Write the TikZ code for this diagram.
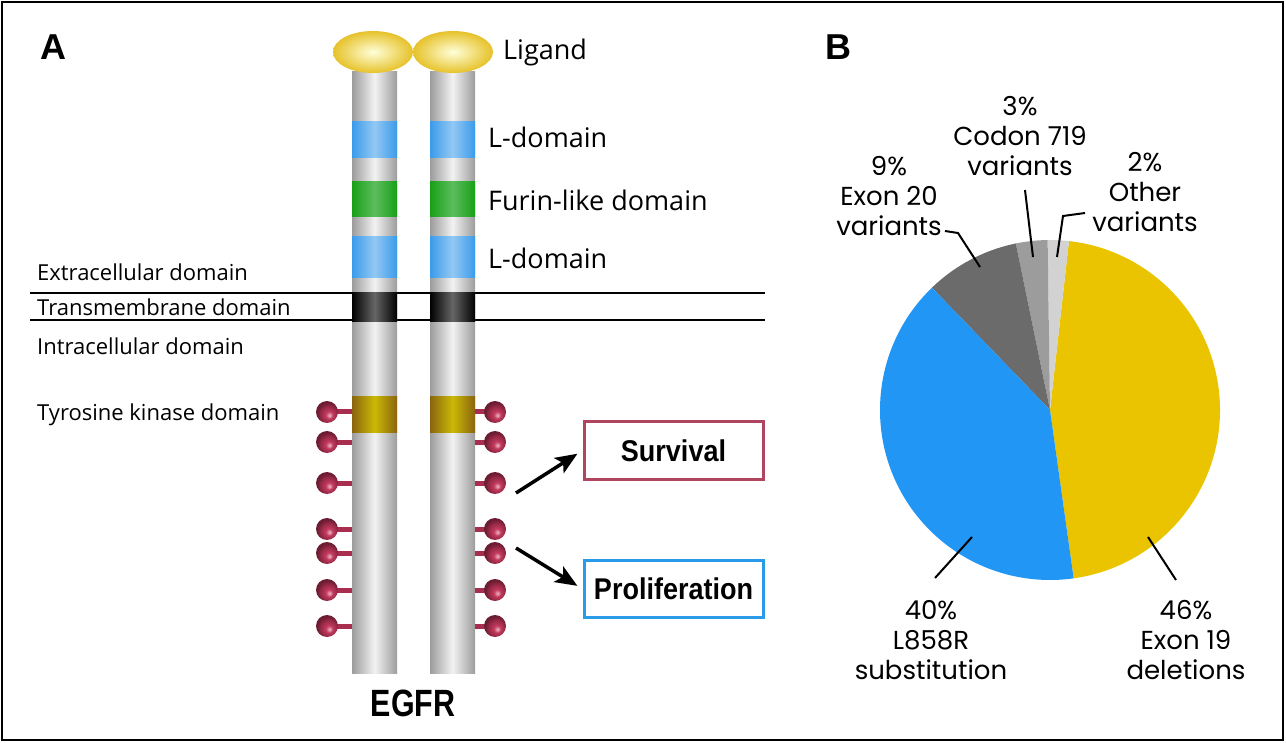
\documentclass[tikz,border=0pt]{standalone}
\usepackage{fontspec}
\setmainfont{Open Sans}
\newfontfamily\piefont{Poppins}
\newfontfamily\headfont{Liberation Sans}
\newfontfamily\condfont[FakeStretch=0.9]{Liberation Sans}
\newfontfamily\egfrfont[FakeStretch=0.8]{Liberation Sans}
\usetikzlibrary{arrows.meta}

\definecolor{pgray}{HTML}{9C9C9C}
\definecolor{lblue}{HTML}{3A9BEA}
\definecolor{lgreen}{HTML}{17A017}
\definecolor{lbrown}{HTML}{8A640E}
\definecolor{lolly}{HTML}{A82D4E}
\definecolor{ballc}{HTML}{C43A5E}
\definecolor{lig}{HTML}{E6C22A}
\definecolor{surv}{HTML}{B04560}
\definecolor{prolif}{HTML}{2A9BE8}
\definecolor{pieyel}{HTML}{EAC400}
\definecolor{pieblu}{HTML}{2196F5}
\definecolor{piedk}{HTML}{6B6B6B}
\definecolor{piemid}{HTML}{9C9C9C}
\definecolor{pielt}{HTML}{D2D2D2}
\pgfdeclareradialshading{lollyball}{\pgfqpoint{6bp}{-8bp}}{color(0bp)=(ballc!35!white);
  color(8bp)=(ballc); color(20bp)=(lolly!85!black); color(25bp)=(lolly!65!black);
  color(50bp)=(lolly!65!black)}

\begin{document}
\begin{tikzpicture}
  [x=1pt,y=-1pt,every node/.style={inner sep=0pt},
   lab/.style={anchor=west,font=\fontsize{22}{26}\selectfont},
   dom/.style={anchor=west,font=\fontsize{27}{30}\selectfont},
   pct/.style={align=center,font=\piefont\fontsize{26}{30}\selectfont},
   outcome/.style={draw,line width=3pt,minimum width=179pt,minimum height=57pt,
     font=\condfont\bfseries\fontsize{30}{32}\selectfont},
   arr/.style={line width=3.5pt,shorten >=6pt,-{Stealth[length=22pt,width=18pt,inset=5pt]}},
   lead/.style={line width=2pt},
   ball/.style={shading=lollyball},
   pillar/.style={left color=pgray,right color=pgray,middle color=white!95!black},
   bandblue/.style={left color=lblue,right color=lblue,middle color=lblue!55!white},
   bandgreen/.style={left color=lgreen,right color=lgreen,middle color=lgreen!70!white},
   bandblack/.style={left color=black,right color=black,middle color=black!60!white},
   bandbrown/.style={left color=lbrown,right color=lbrown,middle color=lbrown!45!yellow}]
  \useasboundingbox (0,0) rectangle (1286,743);
  \draw[line width=1.5pt] (2,2) rectangle (1283,740);

  \node[font=\headfont\bfseries\fontsize{36}{38}\selectfont] (pa) at (53,47) {A};
  \node[font=\headfont\bfseries\fontsize{36}{38}\selectfont] (pb) at (838,47) {B};

  \draw[line width=2pt] (30,293) -- (765,293);
  \draw[line width=2pt] (30,320) -- (765,320);

\foreach \x in {352,430}
  {
    \path[pillar] (\x,72) rectangle ({\x+45},673);
    \foreach \t/\b/\s in {122/158/bandblue, 182/217/bandgreen, 237/278/bandblue,
      293/322/bandblack, 397/432/bandbrown}
      \path[\s] (\x,\t) rectangle ({\x+45},\b);
  }
\foreach \x in {373,453}
  \shade[inner color=white!85!yellow,outer color=lig] (\x,52) ellipse [x radius=40pt,y radius=21pt];

\foreach \y in {412,442,483,529,553,590,626}
  {
    \draw[lolly,line width=5pt] (327,\y) -- (352,\y);
    \draw[lolly,line width=5pt] (475,\y) -- (495,\y);
    \shade[ball] (327,\y) circle [radius=11pt];
    \shade[ball] (495,\y) circle [radius=11pt];
  }

  \node[lab] (ext) at (37,272) {Extracellular domain};
  \node[lab] (tm) at (37,307) {Transmembrane domain};
  \node[lab] (intra) at (37,346) {Intracellular domain};
  \node[lab] (tk) at (37,415) {Tyrosine kinase domain};
  \node[dom] (lig) at (503,52) {Ligand};
  \node[dom] (ld1) at (488,137) {L-domain};
  \node[dom] (fur) at (488,200) {Furin-like domain};
  \node[dom] (ld2) at (488,258) {L-domain};
  \node[font=\egfrfont\bfseries\fontsize{38}{40}\selectfont] (egfr) at (413,703) {EGFR};

  \node[outcome,draw=surv] (sv) at (673.5,450.5) {Survival};
  \node[outcome,draw=prolif] (pr) at (673.5,589) {Proliferation};
  \coordinate (s0) at (516,493);
  \coordinate (p0) at (516,548);
  \draw[arr] (s0) -- (sv.west);
  \draw[arr] (p0) -- (pr.west);

  \coordinate (pc) at (1050,410);
\foreach \a/\b/\c in {-82/83.6/pieyel, 83.6/90.8/pielt, 90.8/101.6/piemid,
  101.6/134/piedk, 134/278/pieblu}
  \fill[\c] (pc) -- ++(\a:170pt) arc [start angle=\a,end angle=\b,radius=170pt] -- cycle;

  \node[pct] (codon) at (1020,136) {3\%\\Codon 719\\variants};
  \node[pct] (ex20) at (889,196) {9\%\\Exon 20\\variants};
  \node[pct] (oth) at (1145,192) {2\%\\Other\\variants};
  \node[pct] (l858) at (931,640) {40\%\\L858R\\substitution};
  \node[pct] (ex19) at (1186,640) {46\%\\Exon 19\\deletions};

  \coordinate (c1) at (1025,190);
  \coordinate (c2) at (1033,257);
  \coordinate (e1) at (945,231);
  \coordinate (e2) at (980,267);
  \coordinate (o1) at (1085,213);
  \coordinate (o2) at (1057,257);
  \coordinate (l1) at (935,578);
  \coordinate (l2) at (972,537);
  \coordinate (x1) at (1148,537);
  \coordinate (x2) at (1176,580);
  \draw[lead] (c1) -- (c2);
  \draw[lead] (e1) -- (958,233) -- (e2);
  \draw[lead] (o1) -- (1063,216) -- (o2);
  \draw[lead] (l1) -- (l2);
  \draw[lead] (x1) -- (x2);
\end{tikzpicture}
\end{document}
